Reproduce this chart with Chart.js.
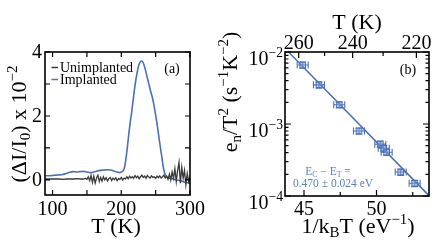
<!DOCTYPE html>
<html>
<head>
<meta charset="utf-8">
<script src="https://cdn.jsdelivr.net/npm/chart.js@4.4.0/dist/chart.umd.min.js"></script>
<style>
  html, body { margin: 0; padding: 0; background: #fff; }
  #wrap { position: relative; width: 436px; height: 246px; overflow: hidden; }
  #wrap canvas { position: absolute; top: 0; }
</style>
</head>
<body>
<div id="wrap">
  <canvas id="chart-a" width="218" height="246" style="left:0"></canvas>
  <canvas id="chart-b" width="218" height="246" style="left:218px"></canvas>
</div>
<script>
// --- Panel (a): DLTS-style signal vs temperature ---
const tempImpl = [90, 95, 100, 105, 110, 115, 120, 125, 130, 135, 140, 145, 150, 155, 160, 165, 170, 175, 180, 185, 190, 195, 198, 201, 203, 205, 207, 209, 211, 213, 215, 217, 219, 221, 223, 225, 227, 229, 231, 233, 235, 237, 239, 241, 243, 245, 247, 249, 251, 253, 255, 257, 259, 261, 263, 265, 268, 272, 276, 280, 285, 290, 295, 300];
const implanted = [0.13, 0.13, 0.14, 0.15, 0.16, 0.17, 0.2, 0.24, 0.26, 0.25, 0.26, 0.27, 0.25, 0.23, 0.25, 0.28, 0.3, 0.31, 0.32, 0.31, 0.27, 0.24, 0.23, 0.26, 0.3, 0.42, 0.7, 1.05, 1.45, 1.8, 2.1, 2.45, 2.8, 3.1, 3.35, 3.55, 3.67, 3.72, 3.7, 3.6, 3.45, 3.27, 3.1, 2.92, 2.75, 2.6, 2.4, 2.15, 1.9, 1.62, 1.3, 1.0, 0.72, 0.42, 0.22, 0.12, 0.07, 0.05, 0.03, 0.0, -0.02, -0.05, -0.08, -0.1];

const tempUnimpl = [90, 95, 100, 105, 110, 115, 120, 125, 130, 135, 140, 145, 148, 150, 152, 154, 156, 158, 160, 162, 164, 166, 168, 170, 172, 174, 176, 178, 180, 182, 184, 186, 188, 190, 192, 194, 196, 198, 200, 202, 204, 206, 208, 210, 212, 214, 216, 218, 220, 222, 224, 226, 228, 230, 232, 234, 236, 238, 240, 242, 244, 246, 248, 250, 252, 254, 256, 258, 260, 262, 264, 266, 268, 270, 272, 274, 276, 278, 280, 282, 284, 286, 288, 290, 292, 294, 296, 298, 300];
const unimplanted = [0.03, 0.03, 0.03, 0.03, 0.03, 0.02, 0.03, 0.03, 0.03, 0.04, 0.03, 0.03, 0.05, 0.02, 0.1, -0.02, 0.14, -0.08, 0.12, -0.1, 0.06, 0.15, -0.05, 0.08, -0.04, 0.1, 0.0, 0.07, -0.03, 0.05, 0.08, -0.02, 0.06, 0.01, 0.07, -0.02, 0.04, 0.02, 0.08, 0.0, 0.06, 0.03, 0.1, 0.04, 0.12, 0.06, 0.1, 0.05, 0.14, 0.07, 0.12, 0.04, 0.1, 0.15, 0.08, 0.12, 0.05, 0.14, 0.09, 0.06, 0.13, 0.08, 0.1, 0.05, 0.12, 0.07, 0.13, 0.06, 0.1, 0.15, 0.06, 0.12, 0.02, 0.18, 0.0, 0.25, 0.05, 0.35, -0.05, 0.3, 0.55, -0.1, 0.4, 0.05, 0.3, -0.15, 0.2, -0.05, 0.1];

const aTicksX = [100, 150, 200, 250, 300];
const aLabelsX = [100, 200, 300];
const aTicksY = [0, 1, 2, 3, 4];
const aLabelsY = [0, 2, 4];

// --- Panel (b): Arrhenius plot ---
const invKT = [44.91, 46.03, 47.43, 48.79, 50.26, 50.50, 50.70, 51.67, 52.63];
const emission = [6.6e-3, 3.5e-3, 1.85e-3, 8.0e-4, 5.25e-4, 4.6e-4, 4.05e-4, 2.15e-4, 1.5e-4];
const invKTErr = [0.38, 0.38, 0.38, 0.38, 0.38, 0.38, 0.38, 0.38, 0.38];
const emissionErr = [0.1, 0.1, 0.1, 0.1, 0.1, 0.1, 0.1, 0.1, 0.1]; // relative
const fitX = [44.0, 53.6];
const fitY = [9.7e-3, 1.02e-4];

const bTicksX = [45, 47.5, 50, 52.5];
const bLabelsX = [45, 50];
const bTopTemps = [260, 250, 240, 230, 220];
const bTopLabels = [260, 240, 220];
const bDecades = [-4, -3, -2];

const kB = 8.617e-5;
const BLUE = '#4a70b6';
const GRAY = '#3a3a3a';

function font(size) { return size + 'px "Liberation Serif", "Times New Roman", serif'; }

// draw text made of parts: [text, 'sub'|'sup'|undefined]
function drawRich(ctx, parts, x, y, size, align) {
  const small = size * 0.68;
  let w = 0;
  parts.forEach(p => { ctx.font = font(p[1] ? small : size); w += ctx.measureText(p[0]).width; });
  let cx = align === 'center' ? x - w / 2 : align === 'right' ? x - w : x;
  ctx.textAlign = 'left';
  ctx.textBaseline = 'alphabetic';
  parts.forEach(p => {
    ctx.font = font(p[1] ? small : size);
    const dy = p[1] === 'sup' ? -size * 0.42 : p[1] === 'sub' ? size * 0.2 : 0;
    ctx.fillText(p[0], cx, y + dy);
    cx += ctx.measureText(p[0]).width;
  });
}

function drawRotated(ctx, parts, x, y, size) {
  ctx.save();
  ctx.translate(x, y);
  ctx.rotate(-Math.PI / 2);
  drawRich(ctx, parts, 0, 0, size, 'center');
  ctx.restore();
}

function frame(ctx, a) {
  ctx.save();
  ctx.strokeStyle = '#000';
  ctx.lineWidth = 1.6;
  ctx.strokeRect(a.left, a.top, a.right - a.left, a.bottom - a.top);
  ctx.restore();
}

function vTick(ctx, a, px, len, top) {
  ctx.beginPath();
  if (top) { ctx.moveTo(px, a.top); ctx.lineTo(px, a.top + len); }
  else { ctx.moveTo(px, a.bottom); ctx.lineTo(px, a.bottom - len); }
  ctx.stroke();
}
function hTick(ctx, a, py, len) {
  ctx.beginPath();
  ctx.moveTo(a.left, py); ctx.lineTo(a.left + len, py);
  ctx.moveTo(a.right, py); ctx.lineTo(a.right - len, py);
  ctx.stroke();
}

const decorA = {
  id: 'decorA',
  afterDraw(chart) {
    const { ctx, chartArea: a, scales: { x, y } } = chart;
    frame(ctx, a);
    ctx.save();
    ctx.strokeStyle = '#000';
    ctx.lineWidth = 1.2;
    aTicksX.forEach(v => { const px = x.getPixelForValue(v); vTick(ctx, a, px, 5, false); vTick(ctx, a, px, 5, true); });
    aTicksY.forEach(v => hTick(ctx, a, y.getPixelForValue(v), 5));
    ctx.fillStyle = '#000';
    ctx.font = font(20);
    ctx.textAlign = 'center';
    ctx.textBaseline = 'alphabetic';
    aLabelsX.forEach(v => ctx.fillText(String(v), x.getPixelForValue(v), 215));
    ctx.textAlign = 'right';
    ctx.textBaseline = 'middle';
    aLabelsY.forEach(v => ctx.fillText(String(v), 42, y.getPixelForValue(v) + 1));
    drawRich(ctx, [['T (K)']], 116, 233, 22, 'center');
    drawRotated(ctx, [['(\u0394I/I'], ['0', 'sub'], [') x 10'], ['\u22122', 'sup']], 26, 124, 22);
    // legend
    ctx.lineWidth = 1.5;
    ctx.strokeStyle = GRAY;
    ctx.beginPath(); ctx.moveTo(51.5, 67.5); ctx.lineTo(58, 67.5); ctx.stroke();
    ctx.strokeStyle = BLUE;
    ctx.beginPath(); ctx.moveTo(51.5, 79.5); ctx.lineTo(58, 79.5); ctx.stroke();
    drawRich(ctx, [['Unimplanted']], 60, 72, 14, 'left');
    drawRich(ctx, [['Implanted']], 60, 84, 14, 'left');
    drawRich(ctx, [['(a)']], 172, 73, 14, 'center');
    ctx.restore();
  }
};

const errorBars = {
  id: 'errorBars',
  beforeDatasetsDraw(chart) {
    const { ctx, scales: { x, y } } = chart;
    ctx.save();
    ctx.strokeStyle = BLUE;
    ctx.lineWidth = 1.1;
    invKT.forEach((v, i) => {
      const px = x.getPixelForValue(v);
      const py = y.getPixelForValue(emission[i]);
      const x0 = x.getPixelForValue(v - invKTErr[i]);
      const x1 = x.getPixelForValue(v + invKTErr[i]);
      const y0 = y.getPixelForValue(emission[i] * (1 + emissionErr[i]));
      const y1 = y.getPixelForValue(emission[i] * (1 - emissionErr[i]));
      ctx.beginPath();
      ctx.moveTo(x0, py); ctx.lineTo(x1, py);
      ctx.moveTo(x0, py - 3.5); ctx.lineTo(x0, py + 3.5);
      ctx.moveTo(x1, py - 3.5); ctx.lineTo(x1, py + 3.5);
      ctx.moveTo(px, y0); ctx.lineTo(px, y1);
      ctx.moveTo(px - 3.5, y0); ctx.lineTo(px + 3.5, y0);
      ctx.moveTo(px - 3.5, y1); ctx.lineTo(px + 3.5, y1);
      ctx.stroke();
    });
    ctx.restore();
  }
};

const decorB = {
  id: 'decorB',
  afterDraw(chart) {
    const { ctx, chartArea: a, scales: { x, y } } = chart;
    frame(ctx, a);
    ctx.save();
    ctx.strokeStyle = '#000';
    ctx.lineWidth = 1.2;
    bTicksX.forEach(v => vTick(ctx, a, x.getPixelForValue(v), bLabelsX.includes(v) ? 6 : 4, false));
    bTopTemps.forEach(T => vTick(ctx, a, x.getPixelForValue(1 / (kB * T)), bTopLabels.includes(T) ? 6 : 4, true));
    bDecades.forEach(d => {
      hTick(ctx, a, y.getPixelForValue(Math.pow(10, d)), 6);
      if (d < -2) {
        for (let m = 2; m <= 9; m++) hTick(ctx, a, y.getPixelForValue(m * Math.pow(10, d)), 3.5);
      }
    });
    ctx.fillStyle = '#000';
    ctx.font = font(20);
    ctx.textAlign = 'center';
    ctx.textBaseline = 'alphabetic';
    bLabelsX.forEach(v => ctx.fillText(String(v), x.getPixelForValue(v), 215));
    bTopLabels.forEach(T => ctx.fillText(String(T), x.getPixelForValue(1 / (kB * T)), 49));
    bDecades.forEach(d => drawRich(ctx, [['10'], ['\u2212' + Math.abs(d), 'sup']], 65, y.getPixelForValue(Math.pow(10, d)) + 13, 20, 'right'));
    drawRich(ctx, [['T (K)']], 139, 29, 22, 'center');
    drawRich(ctx, [['1/k'], ['B', 'sub'], ['T (eV'], ['\u22121', 'sup'], [')']], 140, 233, 22, 'center');
    drawRotated(ctx, [['e'], ['n', 'sub'], ['/T'], ['2', 'sup'], [' (s'], ['\u22121', 'sup'], ['K'], ['\u22122', 'sup'], [')']], 19, 92, 22);
    drawRich(ctx, [['(b)']], 190, 74, 14, 'center');
    ctx.fillStyle = '#5b7fc0';
    drawRich(ctx, [['E'], ['C', 'sub'], [' \u2212 E'], ['T', 'sub'], [' =']], 110, 175, 11.5, 'center');
    drawRich(ctx, [['0.470 \u00b1 0.024 eV']], 115, 187, 11.5, 'center');
    ctx.restore();
  }
};

new Chart(document.getElementById('chart-a'), {
  type: 'line',
  data: {
    datasets: [
      {
        label: 'Unimplanted',
        data: tempUnimpl.map((t, i) => ({ x: t, y: unimplanted[i] })),
        borderColor: GRAY,
        borderWidth: 1.3,
        pointRadius: 0,
        tension: 0,
      },
      {
        label: 'Implanted',
        data: tempImpl.map((t, i) => ({ x: t, y: implanted[i] })),
        borderColor: BLUE,
        borderWidth: 1.6,
        pointRadius: 0,
        cubicInterpolationMode: 'monotone',
      }
    ]
  },
  options: {
    responsive: false,
    animation: false,
    events: [],
    layout: { padding: { left: 45, right: 28, top: 52, bottom: 51 } },
    plugins: { legend: { display: false }, tooltip: { enabled: false } },
    scales: {
      x: { type: 'linear', min: 89, max: 300, display: false },
      y: { type: 'linear', min: -0.47, max: 4, display: false }
    }
  },
  plugins: [decorA]
});

new Chart(document.getElementById('chart-b'), {
  type: 'scatter',
  data: {
    datasets: [
      {
        label: 'data',
        data: invKT.map((v, i) => ({ x: v, y: emission[i] })),
        pointStyle: 'rect',
        pointRadius: 4,
        backgroundColor: 'rgba(130,160,215,0.5)',
        borderColor: BLUE,
        borderWidth: 1,
      },
      {
        label: 'fit',
        data: fitX.map((v, i) => ({ x: v, y: fitY[i] })),
        showLine: true,
        borderColor: BLUE,
        borderWidth: 1.5,
        pointRadius: 0,
      }
    ]
  },
  options: {
    responsive: false,
    animation: false,
    events: [],
    layout: { padding: { left: 67, right: 7, top: 52, bottom: 50 } },
    plugins: { legend: { display: false }, tooltip: { enabled: false } },
    scales: {
      x: { type: 'linear', min: 43.69, max: 53.62, display: false },
      y: { type: 'logarithmic', min: 1e-4, max: 1e-2, display: false }
    }
  },
  plugins: [errorBars, decorB]
});
</script>
</body>
</html>
